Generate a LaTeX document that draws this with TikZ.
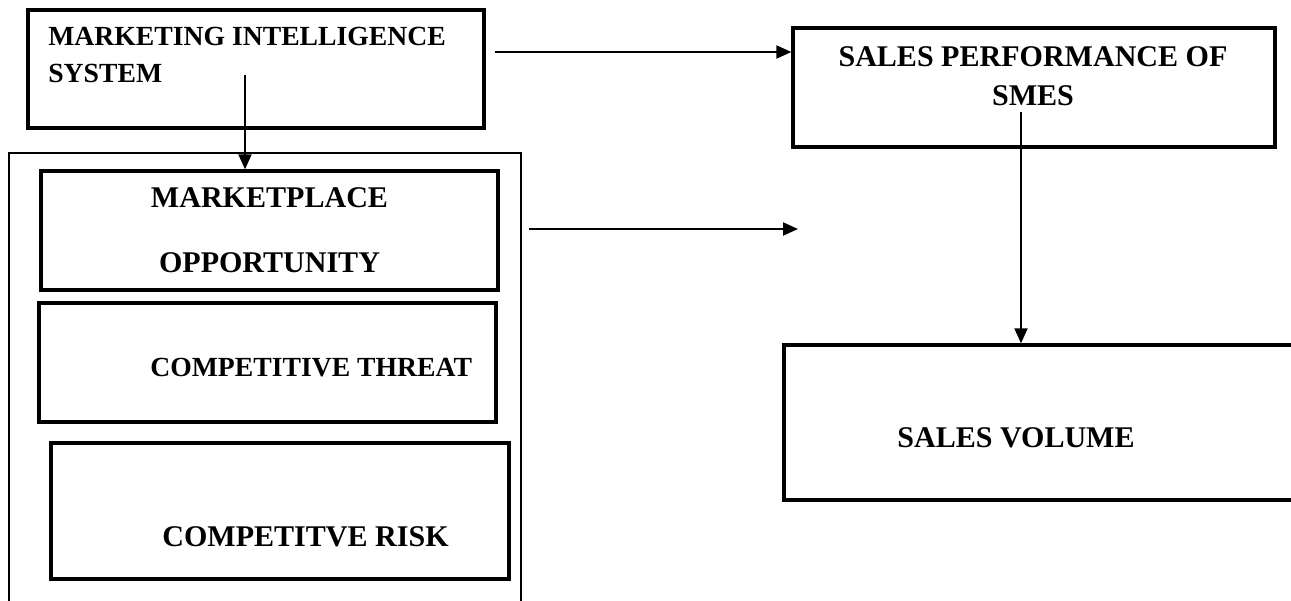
\documentclass[tikz,border=0pt]{standalone}
\usepackage{fontspec}
\setmainfont{Liberation Serif}
\usetikzlibrary{arrows.meta}

\begin{document}
\begin{tikzpicture}[
                    x=0.02cm, y=-0.02cm,
                    itembox/.style={
                        rectangle,
                        draw,
                        line width=1.9pt
                    },
                    groupbox/.style={rectangle, draw, line width=0.75pt},
                    txt/.style={
                        inner sep=0pt,
                        font=\bfseries\fontsize{15.75}{21}\selectfont
                    },
                    txtlarge/.style={
                        inner sep=0pt,
                        font=\bfseries\fontsize{17.1}{22.2}\selectfont
                    },
                    link/.style={-{Triangle[length=0.3cm,width=0.26cm]}, line width=1.1pt}
                ]
                    \useasboundingbox (0,0) rectangle (1291,601);

                    % Boxes
                    \node[groupbox, minimum width=10.24cm, minimum height=9.84cm] (group) at (265,399) {};
                    \node[itembox, minimum width=9.12cm, minimum height=2.36cm] (mis) at (256,69) {};
                    \node[itembox, minimum width=9.14cm, minimum height=2.38cm] (mkt) at (269.5,230.5) {};
                    \node[itembox, minimum width=9.14cm, minimum height=2.38cm] (thr) at (267.5,362.5) {};
                    \node[itembox, minimum width=9.16cm, minimum height=2.72cm] (rsk) at (280,511) {};
                    \node[itembox, minimum width=9.64cm, minimum height=2.38cm] (sp) at (1034,87.5) {};
                    \node[itembox, minimum width=10.32cm, minimum height=3.1cm] (sv) at (1042,422.5) {};

                    % Texts
                    \node[txt, anchor=north west, align=left] (mistext) at (48,26.5) {MARKETING INTELLIGENCE\\SYSTEM};
                    \node[txtlarge, anchor=north, align=center] (mkttext) at (269.5,187.5) {MARKETPLACE\\[14.6pt]OPPORTUNITY};
                    \node[txt, anchor=base west] (thrtext) at (150,376) {COMPETITIVE THREAT};
                    \node[txtlarge, anchor=base west] (rsktext) at (162,546) {COMPETITVE RISK};
                    \node[txtlarge, anchor=north, align=center] (sptext) at (1033,46.5) {SALES PERFORMANCE OF\\SMES};
                    \node[txtlarge, anchor=base west] (svtext) at (897,447) {SALES VOLUME};

                    % Edges
                    \coordinate (misout) at (245,75);
                    \coordinate (spout) at (1021,112);
                    \coordinate (linkA) at (495,52);
                    \coordinate (linkB) at (529,229);
                    \coordinate (linkBend) at (798,229);
                    \draw[link] (misout) -- (misout |- mkt.north);
                    \draw[link] (linkA) -- (linkA -| sp.west);
                    \draw[link] (linkB) -- (linkBend);
                    \draw[link] (spout) -- (spout |- sv.north);
                \end{tikzpicture}
\end{document}
